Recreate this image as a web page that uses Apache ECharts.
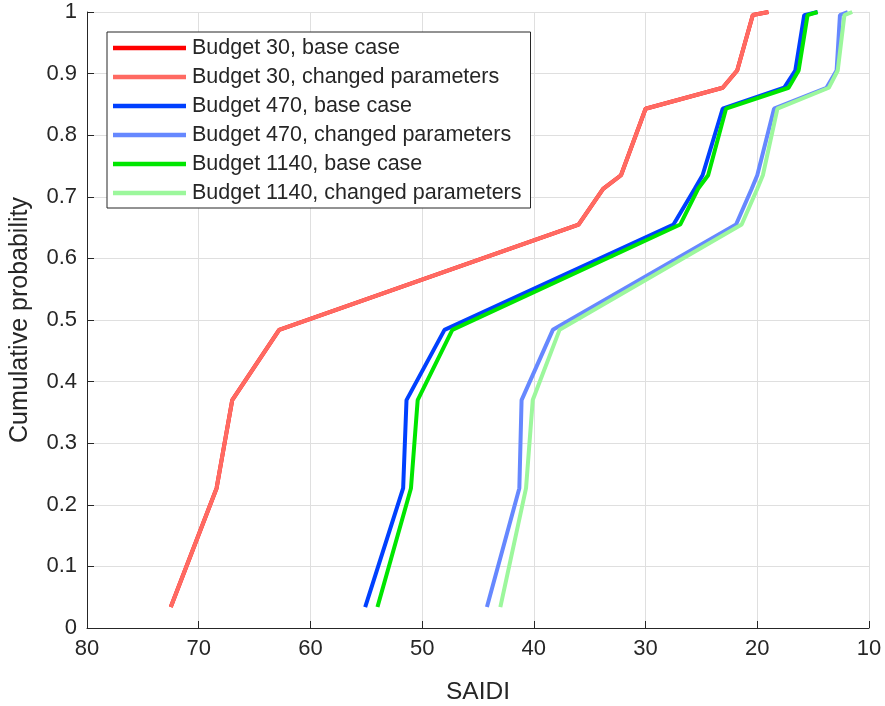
<!DOCTYPE html>
<html>
<head>
<meta charset="utf-8">
<script src="https://cdn.jsdelivr.net/npm/echarts@6/dist/echarts.min.js"></script>
<style>
  * { margin: 0; padding: 0; }
  #chart { width: 885px; height: 706px; background: #fff; }
</style>
</head>
<body>
<div id="chart"></div>
<script>
// cumulative probability levels shared by every curve
const probs = [0.034, 0.227, 0.37, 0.484, 0.655, 0.713, 0.735, 0.843, 0.877, 0.905, 0.995, 1.0];

// SAIDI values at each probability level
const b30Base = [72.5, 68.4, 67.0, 62.8, 36.0, 33.8, 32.2, 30.0, 23.1, 21.8, 20.4, 19.0];
const b30Changed = [72.5, 68.4, 67.0, 62.8, 36.0, 33.8, 32.2, 30.0, 23.1, 21.8, 20.4, 19.0];
const b470Base = [55.1, 51.7, 51.4, 48.0, 27.5, 25.6, 24.9, 23.1, 17.6, 16.6, 15.8, 14.6];
const b470Changed = [44.2, 41.3, 41.1, 38.3, 21.9, 20.5, 20.0, 18.5, 13.8, 12.9, 12.6, 11.9];
const b1140Base = [54.0, 51.0, 50.4, 47.3, 26.9, 25.3, 24.4, 22.8, 17.2, 16.3, 15.5, 14.6];
const b1140Changed = [43.0, 40.7, 40.1, 37.7, 21.4, 20.0, 19.5, 18.2, 13.6, 12.8, 12.2, 11.5];

const names = [
  "Budget 30, base case",
  "Budget 30, changed parameters",
  "Budget 470, base case",
  "Budget 470, changed parameters",
  "Budget 1140, base case",
  "Budget 1140, changed parameters",
];
const colors = ["#ff0000", "#ff6a62", "#0040ff", "#6688ff", "#00e600", "#9cf79c"];
const values = [b30Base, b30Changed, b470Base, b470Changed, b1140Base, b1140Changed];

const font = "'Liberation Sans', Arial, sans-serif";
const axisColor = "#262626";

const dom = document.getElementById("chart");
const myChart = echarts.init(dom, null, { renderer: "canvas" });

const option = {
  animation: false,
  backgroundColor: "#fff",
  textStyle: { fontFamily: font },
  grid: { left: 87, right: 16, top: 12, bottom: 78, containLabel: false, outerBoundsMode: "none" },
  legend: {
    orient: "vertical",
    left: 107,
    top: 32,
    data: names,
    icon: "rect",
    itemWidth: 73,
    itemHeight: 4.5,
    itemGap: 7,
    padding: [5, 9, 4, 6],
    backgroundColor: "#fff",
    borderColor: axisColor,
    borderWidth: 1,
    borderRadius: 0,
    textStyle: {
      fontFamily: font,
      fontSize: 21.5,
      color: axisColor,
      lineHeight: 22,
      padding: [0, 0, 0, 1],
    },
  },
  xAxis: {
    type: "value",
    inverse: true,
    min: 10,
    max: 80,
    interval: 10,
    name: "SAIDI",
    nameLocation: "middle",
    nameGap: 52,
    nameTextStyle: { fontFamily: font, fontSize: 24.5, color: axisColor },
    axisLine: { show: true, lineStyle: { color: axisColor, width: 1 } },
    axisTick: { show: true, inside: true, length: 7, lineStyle: { color: axisColor } },
    axisLabel: { fontFamily: font, fontSize: 22, color: axisColor, margin: 10 },
    splitLine: { show: true, lineStyle: { color: "#dfdfdf", width: 1 } },
  },
  yAxis: {
    type: "value",
    min: 0,
    max: 1,
    interval: 0.1,
    name: "Cumulative probability",
    nameLocation: "middle",
    nameGap: 54,
    nameTextStyle: { fontFamily: font, fontSize: 25, color: axisColor },
    axisLine: { show: true, lineStyle: { color: axisColor, width: 1 } },
    axisTick: { show: true, inside: true, length: 7, lineStyle: { color: axisColor } },
    axisLabel: { fontFamily: font, fontSize: 22, color: axisColor, margin: 10 },
    splitLine: { show: true, lineStyle: { color: "#dfdfdf", width: 1 } },
  },
  series: names.map((name, i) => ({
    name: name,
    type: "line",
    symbol: "none",
    color: colors[i],
    lineStyle: { color: colors[i], width: 4 },
    data: values[i].map((x, j) => [x, probs[j]]),
  })),
};

myChart.setOption(option);
</script>
</body>
</html>
